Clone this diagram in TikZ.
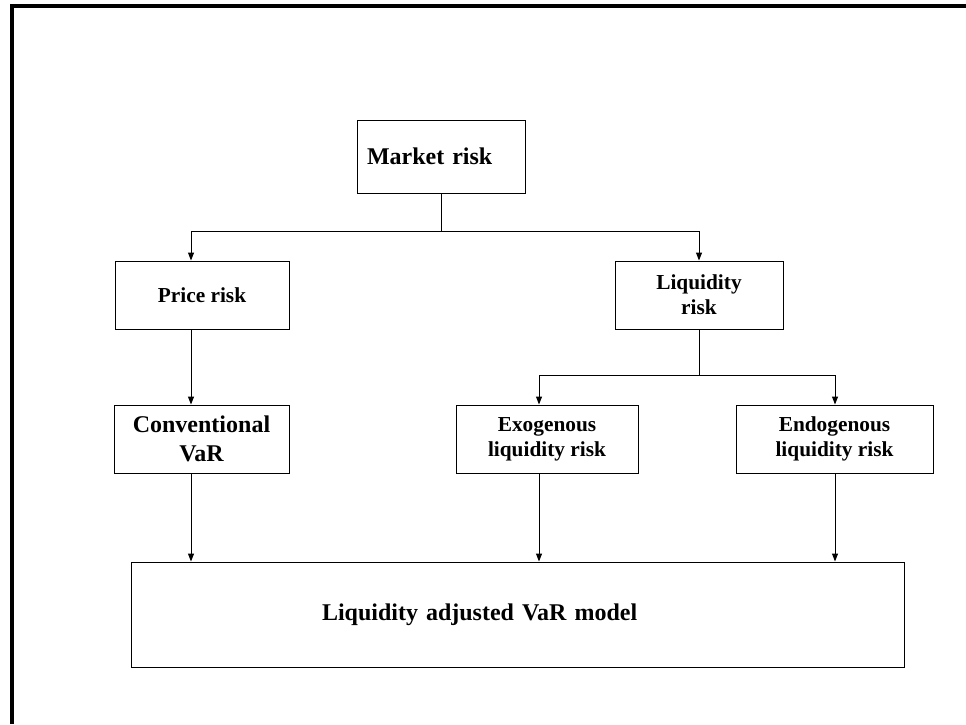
\documentclass[tikz,border=0pt]{standalone}
\usepackage{fontspec}
\setmainfont{Liberation Serif}
\usetikzlibrary{arrows.meta}

\begin{document}
\begin{tikzpicture}[x=0.75pt,y=-0.75pt,
	riskbox/.style={draw, rectangle, line width=0.75pt, align=center, inner sep=0pt,
		minimum height=51pt, font=\bfseries\fontsize{16}{19}\selectfont},
	flow/.style={line width=0.75pt, -{Triangle[length=6pt,width=4.5pt]}},
	stem/.style={line width=0.75pt}
	]
	\useasboundingbox (0,0) rectangle (966,724);
	\draw[line width=2.4pt] (12,724) -- (12,6) -- (966,6);

	\node[riskbox, minimum width=126pt, minimum height=54.75pt, text width=111pt, inner xsep=7.5pt,
		align=left, font=\bfseries\fontsize{18}{21}\selectfont] (market) at (441,156.5) {Market risk};
	\node[riskbox, minimum width=130.5pt] (price) at (202,295) {Price risk};
	\node[riskbox, minimum width=126pt] (liq) at (699,295) {Liquidity\\risk};
	\node[riskbox, minimum width=131.25pt, font=\bfseries\fontsize{18}{21.75}\selectfont] (conv) at (201.5,439) {Conventional\\VaR};
	\node[riskbox, minimum width=136.5pt] (exo) at (547,439) {Exogenous\\liquidity risk};
	\node[riskbox, minimum width=147.75pt] (endo) at (834.5,439) {Endogenous\\liquidity risk};
	\node[riskbox, minimum width=579.75pt, minimum height=78.75pt, text width=293.25pt, inner xsep=143.25pt,
		align=left, font=\bfseries\fontsize{18}{21}\selectfont] (ladj) at (517.5,614.5) {Liquidity adjusted VaR model};

	\coordinate (split1) at (441,231);
	\coordinate (split2) at (699,375);
	\coordinate (colA) at (191,0);
	\coordinate (colB) at (539,0);
	\coordinate (colC) at (835,0);

	\draw[stem] (market) -- (split1);
	\draw[flow] (split1) -| (colA |- price.north);
	\draw[flow] (split1) -| (liq.north);
	\draw[stem] (liq) -- (split2);
	\draw[flow] (split2) -| (colB |- exo.north);
	\draw[flow] (split2) -| (colC |- endo.north);
	\draw[flow] (colA |- price.south) -- (colA |- conv.north);
	\draw[flow] (colA |- conv.south) -- (colA |- ladj.north);
	\draw[flow] (colB |- exo.south) -- (colB |- ladj.north);
	\draw[flow] (colC |- endo.south) -- (colC |- ladj.north);
\end{tikzpicture}
\end{document}
